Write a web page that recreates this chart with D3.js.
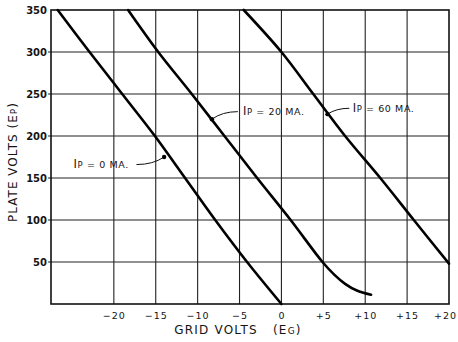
<!DOCTYPE html>
<html><head><meta charset="utf-8">
<script src="https://cdn.jsdelivr.net/npm/d3@7"></script>
<style>body{margin:0;background:#fff}svg{display:block}text{font-family:"DejaVu Sans",sans-serif;fill:#151515}</style>
</head><body><svg id="c" width="458" height="342"></svg>
<script>
// Data (grid volts Eg, plate volts Ep)
const ip0Eg  = [-26.7, -22.9, -19.0, -15.1, -11.5, -7.9, -4.1, 0.0];
const ip0Ep  = [350, 300, 250, 200, 150, 100, 50, 0];
const ip20Eg = [-18.3, -14.7, -10.7, -6.8, -2.9, 1.1, 4.9, 6.3, 7.6, 9.0, 10.7];
const ip20Ep = [350, 300, 250, 200, 150, 100, 50, 35, 24, 16, 11];
const ip60Eg = [-4.5, 0.0, 3.8, 7.6, 11.8, 15.8, 20.0];
const ip60Ep = [350, 300, 250, 200, 150, 100, 48];
const xTicks = [-20, -15, -10, -5, 0, 5, 10, 15, 20];
const xTickLabels = ["\u221220", "\u221215", "\u221210", "\u22125", "0", "+5", "+10", "+15", "+20"];
const yTicks = [50, 100, 150, 200, 250, 300, 350];
// label anchor (x,y), leader start (lx,ly), leader tip on curve (tx,ty) — all in data units
const labels = [
  {main:"I", sub:"P", rest:" = 0 MA.",  x:-24.8, y:162, lx:-17.3, ly:166, tx:-14.0, ty:175},
  {main:"I", sub:"P", rest:" = 20 MA.", x:-4.6,  y:225, lx:-5.2,  ly:229, tx:-8.3,  ty:220},
  {main:"I", sub:"P", rest:" = 60 MA.", x:8.5,   y:229, lx:8.1,   ly:233, tx:5.5,   ty:226}
];

const svg = d3.select("#c");
const L=51, R=449, T=10, B=304;
const x = d3.scaleLinear().domain([-27.5, 20]).range([L, R]);
const y = d3.scaleLinear().domain([0, 350]).range([B, T]);

// grid
const g = svg.append("g");
g.selectAll(".gx").data(xTicks.filter(d=>d<20)).join("line")
  .attr("x1", d=>x(d)).attr("x2", d=>x(d)).attr("y1", T).attr("y2", B)
  .attr("stroke", "#222").attr("stroke-width", 1.1);
g.selectAll(".gy").data(yTicks.filter(d=>d<350)).join("line")
  .attr("x1", L-3).attr("x2", R).attr("y1", d=>y(d)).attr("y2", d=>y(d))
  .attr("stroke", "#222").attr("stroke-width", 1.1);
g.append("rect").attr("x", L).attr("y", T).attr("width", R-L).attr("height", B-T)
  .attr("fill", "none").attr("stroke", "#111").attr("stroke-width", 1.6);

// axes tick labels via d3 axis
const xAxis = d3.axisBottom(x).tickValues(xTicks).tickSize(0).tickPadding(8)
  .tickFormat((d,i)=>xTickLabels[i]);
const ax = svg.append("g").attr("transform", `translate(0,${B})`).call(xAxis);
ax.select(".domain").remove();
ax.selectAll("text").attr("font-size", 9.5).attr("letter-spacing", 1.0)
  .style("font-family", "DejaVu Sans").attr("fill", "#151515");
ax.selectAll("text").filter(d=>d===20).attr("dx", -4);

const yAxis = d3.axisLeft(y).tickValues(yTicks).tickSize(0).tickPadding(4);
const ay = svg.append("g").attr("transform", `translate(${L},0)`).call(yAxis);
ay.select(".domain").remove();
ay.selectAll("text").attr("font-size", 10).attr("font-weight", "bold")
  .style("font-family", "DejaVu Sans").attr("fill", "#151515");

// curves
const line = d3.line().x(d=>x(d[0])).y(d=>y(d[1])).curve(d3.curveCatmullRom.alpha(0.5));
[[ip0Eg, ip0Ep],[ip20Eg, ip20Ep],[ip60Eg, ip60Ep]].forEach(([a,b])=>{
  svg.append("path").datum(a.map((v,i)=>[v,b[i]])).attr("d", line)
    .attr("fill","none").attr("stroke","#000").attr("stroke-width",2.6)
    .attr("stroke-linecap","round");
});

// annotations
labels.forEach(l=>{
  const t = svg.append("text").attr("x", x(l.x)).attr("y", y(l.y))
    .attr("font-size", 9.5).attr("letter-spacing", 0.6);
  t.append("tspan").text(l.main).attr("font-size", 11.5);
  t.append("tspan").text(l.sub).attr("font-size", 8.5);
  t.append("tspan").text(l.rest);
  const x1 = x(l.lx), y1 = y(l.ly), x2 = x(l.tx), y2 = y(l.ty);
  const cx = x1 + (x2-x1)*0.6;
  svg.append("path").attr("d", `M${x1},${y1} Q${cx},${y1} ${x2},${y2}`)
    .attr("fill","none").attr("stroke","#111").attr("stroke-width",1);
  svg.append("circle").attr("cx", x2).attr("cy", y2).attr("r", 2.2).attr("fill","#000");
});

// axis titles
const xt = svg.append("text").attr("x", 238).attr("y", 334).attr("text-anchor","middle")
  .attr("font-size", 12).attr("letter-spacing", 1.2);
xt.append("tspan").text("GRID VOLTS\u00a0\u00a0\u00a0(E");
xt.append("tspan").text("G").attr("font-size", 9);
xt.append("tspan").text(")");
const yt = svg.append("text").attr("transform", "translate(17,162) rotate(-90)")
  .attr("text-anchor","middle").attr("font-size", 12).attr("letter-spacing", 1);
yt.append("tspan").text("PLATE VOLTS (E");
yt.append("tspan").text("P").attr("font-size", 9);
yt.append("tspan").text(")");
</script></body></html>
